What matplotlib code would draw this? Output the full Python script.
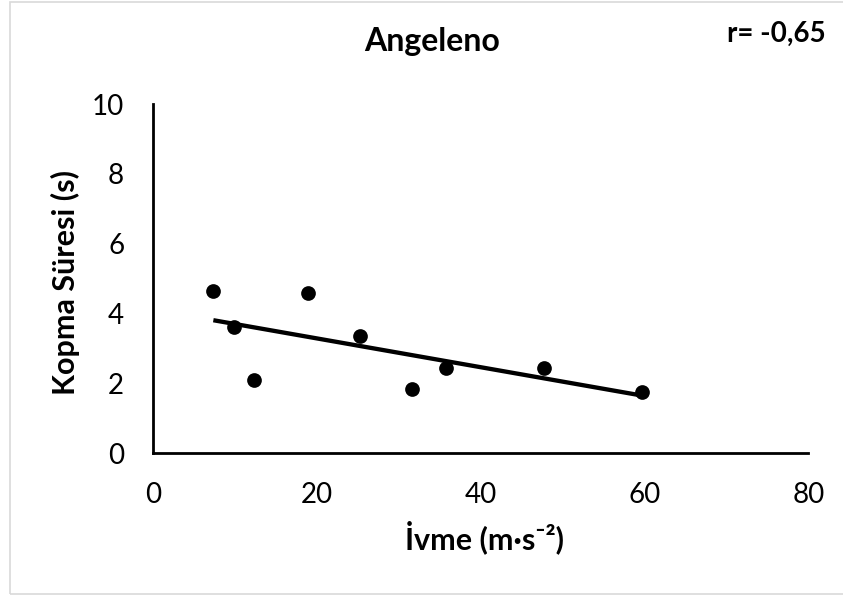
import matplotlib.pyplot as plt
import numpy as np
from matplotlib.patches import Rectangle

plt.rcParams['font.family'] = ['Lato', 'DejaVu Sans']

# ivme (m/s^2) ve kopma suresi (s)
ivme = [7.33, 9.82, 12.26, 18.89, 25.2, 31.55, 35.74, 47.67, 59.67]
kopma = [4.65, 3.61, 2.11, 4.58, 3.37, 1.83, 2.43, 2.45, 1.76]
x_ticks = [0, 20, 40, 60, 80]
y_ticks = [0, 2, 4, 6, 8, 10]
title = "Angeleno"
r_text = "r= -0,65"

fig = plt.figure(figsize=(8.43, 5.96), dpi=100)
ax = fig.add_axes([0.1819, 0.2394, 0.7769, 0.5861])

x = np.array(ivme)
y = np.array(kopma)
ax.scatter(x, y, s=112, color='black', zorder=3, linewidths=0)

# linear trendline over the data range
m, b = np.polyfit(x, y, 1)
xl = np.array([x.min(), x.max()])
ax.plot(xl, m * xl + b, color='black', lw=3.1, solid_capstyle='butt', zorder=2)

ax.set_xlim(0, 80)
ax.set_ylim(0, 10)
ax.set_xticks(x_ticks)
ax.set_yticks(y_ticks)
ax.tick_params(length=0, labelsize=20, pad=21)
for s in ['top', 'right']:
    ax.spines[s].set_visible(False)
for s in ['left', 'bottom']:
    ax.spines[s].set_linewidth(2)
    ax.spines[s].set_color('black')

ax.set_xlabel("İvme (m·s⁻²)", fontsize=22, fontweight='bold')
ax.set_ylabel("Kopma Süresi (s)", fontsize=22, fontweight='bold')
ax.xaxis.set_label_coords(0.505, -0.192)
ax.yaxis.set_label_coords(-0.112, 0.49)

fig.text(0.512, 0.914, title, ha='center', va='baseline', fontsize=23, fontweight='bold')
fig.text(0.979, 0.9295, r_text, ha='right', va='baseline', fontsize=20, fontweight='bold')

# chart area border
fig.patches.append(Rectangle((0.0119, 0.0034), 1.0, 0.9937, transform=fig.transFigure,
                             fill=False, edgecolor='#d9d9d9', lw=1.2, clip_on=False))

fig.savefig('out.png', dpi=100, facecolor='white')
